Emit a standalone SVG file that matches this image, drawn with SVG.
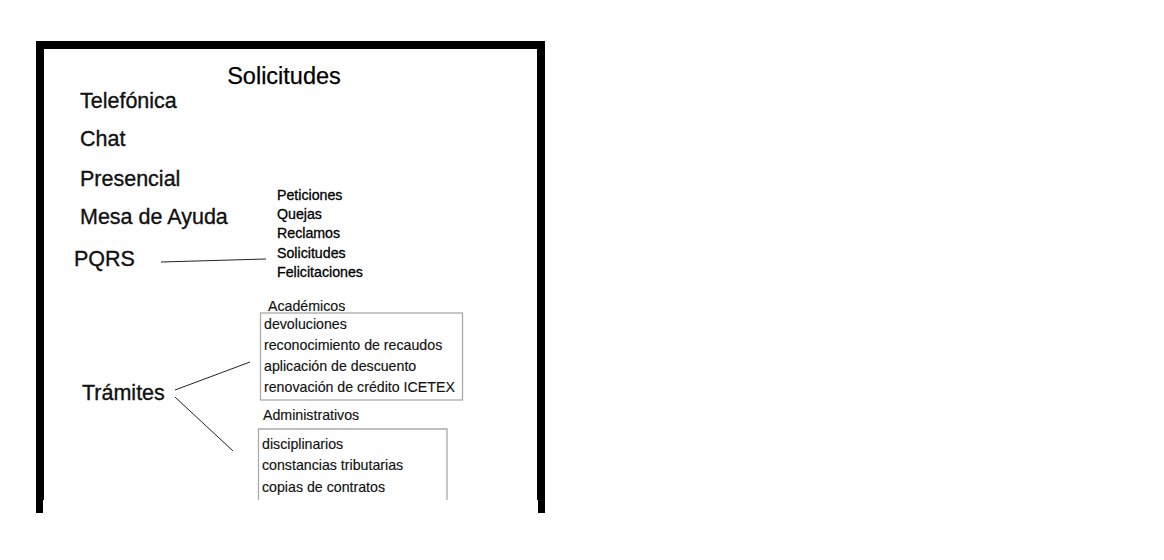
<svg xmlns="http://www.w3.org/2000/svg" width="1164" height="560" viewBox="0 0 1164 560">
<style>
text{font-family:"Liberation Sans",Arial,Helvetica,sans-serif;fill:#111}
.big{font-size:21.5px;stroke:#111;stroke-width:0.35}
.title{font-size:23.5px;stroke:#000;stroke-width:0.25;fill:#000}
.sm{font-size:14.2px;stroke:#000;stroke-width:0.3;fill:#000}
.it{font-size:14.2px;stroke:#111;stroke-width:0.15}
.conn{stroke:#222;stroke-width:1;fill:none}
.box{fill:none;stroke:#aaa;stroke-width:1.3}
</style>
<rect width="1164" height="560" fill="#fff"/>
<g id="frame" fill="#000">
<rect x="36" y="41" width="509" height="8"/>
<rect x="36" y="41" width="8" height="459"/>
<rect x="36" y="500" width="7" height="13"/>
<rect x="537" y="41" width="8" height="459"/>
<rect x="538" y="500" width="7" height="13"/>
</g>
<g id="title"><text class="title" x="284" y="84" text-anchor="middle">Solicitudes</text></g>
<g id="telefonica"><text class="big" x="80" y="108">Telefónica</text></g>
<g id="chat"><text class="big" x="80" y="146">Chat</text></g>
<g id="presencial"><text class="big" x="80" y="186">Presencial</text></g>
<g id="mesa"><text class="big" x="80" y="224">Mesa de Ayuda</text></g>
<g id="pqrs"><text class="big" x="74" y="266">PQRS</text></g>
<g id="pqrs-list">
<text class="sm" x="277" y="200">Peticiones</text>
<text class="sm" x="277" y="219">Quejas</text>
<text class="sm" x="277" y="238">Reclamos</text>
<text class="sm" x="277" y="258">Solicitudes</text>
<text class="sm" x="277" y="277">Felicitaciones</text>
</g>
<g id="tramites"><text class="big" x="82" y="400">Trámites</text></g>
<g id="academicos">
<text class="it" x="268" y="311">Académicos</text>
<rect class="box" x="260.5" y="313" width="202" height="87"/>
<text class="it" x="264" y="329">devoluciones</text>
<text class="it" x="264" y="350">reconocimiento de recaudos</text>
<text class="it" x="264" y="371">aplicación de descuento</text>
<text class="it" x="264" y="392">renovación de crédito ICETEX</text>
</g>
<g id="administrativos">
<text class="it" x="263" y="420">Administrativos</text>
<path class="box" d="M258.5,500 V429 H447 V500"/>
<text class="it" x="262" y="449">disciplinarios</text>
<text class="it" x="262" y="470">constancias tributarias</text>
<text class="it" x="262" y="492">copias de contratos</text>
</g>
<g id="connectors">
<line class="conn" x1="161" y1="262" x2="266" y2="259"/>
<line class="conn" x1="175" y1="390" x2="250" y2="362"/>
<line class="conn" x1="175" y1="397" x2="233" y2="451"/>
</g>
</svg>
